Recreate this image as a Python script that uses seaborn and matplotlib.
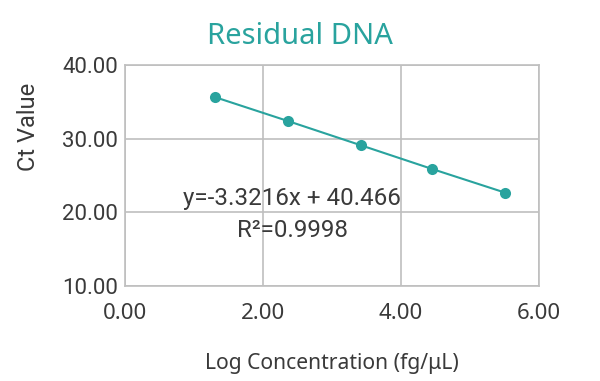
import pandas as pd
import matplotlib
matplotlib.use("Agg")
import matplotlib.pyplot as plt
import seaborn as sns

# Standard curve points
log_conc = [1.31, 2.36, 3.42, 4.45, 5.51]
ct_value = [35.62, 32.40, 29.10, 25.89, 22.67]

x_ticks = [0, 2, 4, 6]
y_ticks = [10, 20, 30, 40]

teal = "#29a39e"
grid_col = "#bfbfbf"
text_col = "#3a3a3a"


def make_chart():
    sns.set_style("white")
    plt.rcParams["font.family"] = ["Noto Sans", "DejaVu Sans"]

    df = pd.DataFrame({"x": log_conc, "y": ct_value})

    fig = plt.figure(figsize=(6, 3.81), dpi=100)
    ax = fig.add_axes([0.2083, 0.2493, 0.69, 0.5801])

    sns.lineplot(data=df, x="x", y="y", ax=ax, color=teal, linewidth=1.5,
                 marker="o", markersize=8, markeredgewidth=0, zorder=3)

    ax.set_xlim(0, 6)
    ax.set_ylim(10, 40)
    ax.set_xticks(x_ticks)
    ax.set_yticks(y_ticks)
    ax.set_xticklabels([f"{v:.2f}" for v in x_ticks], fontsize=16,
                       color=text_col, family=["Noto Sans", "DejaVu Sans"])
    ax.set_yticklabels([f"{v:.2f}" for v in y_ticks], fontsize=16,
                       color=text_col, family=["Roboto", "DejaVu Sans"])
    ax.tick_params(axis="x", length=0, pad=12)
    ax.tick_params(axis="y", length=0, pad=5)

    ax.grid(True, color=grid_col, linewidth=1.2)
    ax.set_axisbelow(True)
    for s in ax.spines.values():
        s.set_color(grid_col)
        s.set_linewidth(1.2)

    ax.set_xlabel("Log Concentration (fg/\u03bcL)", fontsize=15.2, color=text_col,
                  labelpad=21, family=["Noto Sans", "DejaVu Sans"])
    ax.set_ylabel("Ct Value", fontsize=17, color=text_col,
                  family=["Roboto", "DejaVu Sans"])
    # the reference puts the y label high up, not centred on the axis
    ax.yaxis.set_label_coords(-0.205, 0.72)

    fig.text(0.5, 0.905, "Residual DNA", ha="center", va="center",
             fontsize=21, color=teal, family=["Noto Sans", "DejaVu Sans"])

    ax.text(0.836, 21.9, "y=-3.3216x + 40.466", ha="left", va="center",
            fontsize=17.4, color=text_col, family=["Roboto", "DejaVu Sans"])
    ax.text(1.626, 17.5, "R\u00b2=0.9998", ha="left", va="center",
            fontsize=17.4, color=text_col, family=["Roboto", "DejaVu Sans"])

    fig.savefig("out.png", dpi=100)
    plt.close(fig)


if __name__ == "__main__":
    make_chart()
